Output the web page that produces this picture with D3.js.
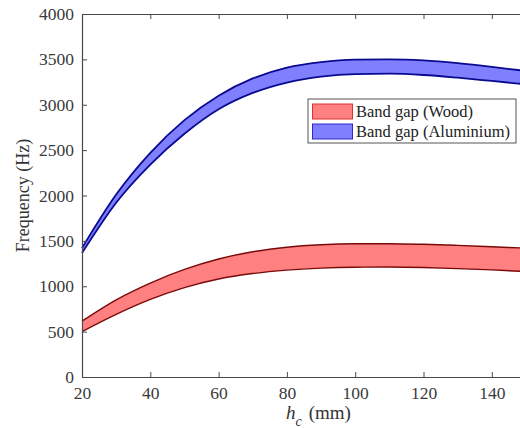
<!DOCTYPE html>
<html>
<head>
<meta charset="utf-8">
<script src="https://cdn.jsdelivr.net/npm/d3@7"></script>
<style>
  body { margin: 0; background: #fff; }
  svg text { font-family: 'Liberation Serif', 'DejaVu Serif', serif !important; }
</style>
</head>
<body>
<div id="chart"></div>
<script>
const hc = [20, 30, 40, 50, 60, 70, 80, 90, 100, 110, 120, 130, 140, 150];
const aluUpper = [1420, 2010, 2470, 2830, 3100, 3290, 3410, 3470, 3497, 3500, 3488, 3458, 3418, 3372];
const aluLower = [1365, 1920, 2340, 2680, 2950, 3130, 3245, 3310, 3338, 3342, 3328, 3298, 3262, 3225];
const woodUpper = [615, 850, 1035, 1185, 1300, 1380, 1430, 1457, 1468, 1469, 1462, 1450, 1435, 1420];
const woodLower = [500, 690, 855, 985, 1080, 1140, 1178, 1200, 1210, 1212, 1206, 1194, 1180, 1162];
const xTicks = [20, 40, 60, 80, 100, 120, 140];
const yTicks = [0, 500, 1000, 1500, 2000, 2500, 3000, 3500, 4000];
const legendLabels = ['Band gap (Wood)', 'Band gap (Aluminium)'];

const width = 520;
const height = 428;
const margin = { top: 14, left: 82, bottom: 51 };

const svg = d3.select('#chart').append('svg')
    .attr('width', width)
    .attr('height', height)
    .style('display', 'block');

const x = d3.scaleLinear().domain([20, 150]).range([margin.left, margin.left + 6.5 * 68.3]);
const y = d3.scaleLinear().domain([0, 4000]).range([height - margin.bottom, margin.top]);

// bands: filled area plus dark edge lines
function band(upper, lower, fill, edge, edgeWidth) {
    const rows = hc.map((h, i) => ({ h, hi: upper[i], lo: lower[i] }));
    const area = d3.area()
        .curve(d3.curveMonotoneX)
        .x(d => x(d.h))
        .y0(d => y(d.lo))
        .y1(d => y(d.hi));
    svg.append('path').datum(rows)
        .attr('d', area)
        .attr('fill', fill);
    const lineHi = d3.line().curve(d3.curveMonotoneX).x(d => x(d.h)).y(d => y(d.hi));
    const lineLo = d3.line().curve(d3.curveMonotoneX).x(d => x(d.h)).y(d => y(d.lo));
    svg.append('path').datum(rows).attr('d', lineHi)
        .attr('fill', 'none').attr('stroke', edge).attr('stroke-width', edgeWidth);
    svg.append('path').datum(rows).attr('d', lineLo)
        .attr('fill', 'none').attr('stroke', edge).attr('stroke-width', edgeWidth);
}

band(woodUpper, woodLower, '#ff8080', '#7a0a0a', 1.4);
band(aluUpper, aluLower, '#8080ff', '#0a0a90', 1.8);

// axes
const axisColor = '#4a4a4a';

const xAxis = svg.append('g')
    .attr('transform', `translate(0, ${y(0)})`)
    .call(d3.axisBottom(x).tickValues(xTicks).tickSizeInner(-5).tickSizeOuter(0).tickPadding(10));

const yAxis = svg.append('g')
    .attr('transform', `translate(${margin.left}, 0)`)
    .call(d3.axisLeft(y).tickValues(yTicks).tickFormat(d3.format('d')).tickSizeInner(-5).tickSizeOuter(0).tickPadding(8));

const topAxis = svg.append('g')
    .attr('transform', `translate(0, ${y(4000)})`)
    .call(d3.axisTop(x).tickValues(xTicks).tickSizeInner(-5).tickSizeOuter(0).tickFormat(''));

[xAxis, yAxis, topAxis].forEach(g => {
    g.attr('font-size', 17.5);
    g.select('.domain').attr('stroke', axisColor).attr('stroke-width', 1.2);
    g.selectAll('.tick line').attr('stroke', axisColor);
    g.selectAll('.tick text').attr('fill', '#3a3a3a');
});

// axis labels
svg.append('text')
    .attr('transform', `translate(29, ${y(2000)}) rotate(-90)`)
    .attr('text-anchor', 'middle')
    .attr('fill', '#333')
    .style('font-size', '18px')
    .text('Frequency (Hz)');

const xl = svg.append('text')
    .attr('x', 286)
    .attr('y', 419)
    .attr('fill', '#333')
    .style('font-size', '19px');
xl.append('tspan').style('font-style', 'italic').text('h');
xl.append('tspan').attr('dy', 7).style('font-style', 'italic').style('font-size', '14px').text('c');
xl.append('tspan').attr('dy', -7).attr('dx', 7).text('(mm)');

// legend
const legend = svg.append('g').attr('transform', 'translate(308, 99)');
legend.append('rect')
    .attr('width', 208).attr('height', 44)
    .attr('fill', '#fff').attr('stroke', '#555').attr('stroke-width', 1);
const legendFill = ['#ff8080', '#8080ff'];
const legendEdge = ['#e03030', '#2a2ad0'];
legendLabels.forEach((lab, i) => {
    legend.append('rect')
        .attr('x', 4.5).attr('y', 5 + i * 20)
        .attr('width', 40).attr('height', 15)
        .attr('fill', legendFill[i]).attr('stroke', legendEdge[i]).attr('stroke-width', 1);
    legend.append('text')
        .attr('x', 48).attr('y', 18 + i * 20)
        .attr('fill', '#222')
        .style('font-size', '16.5px')
        .text(lab);
});
</script>
</body>
</html>
